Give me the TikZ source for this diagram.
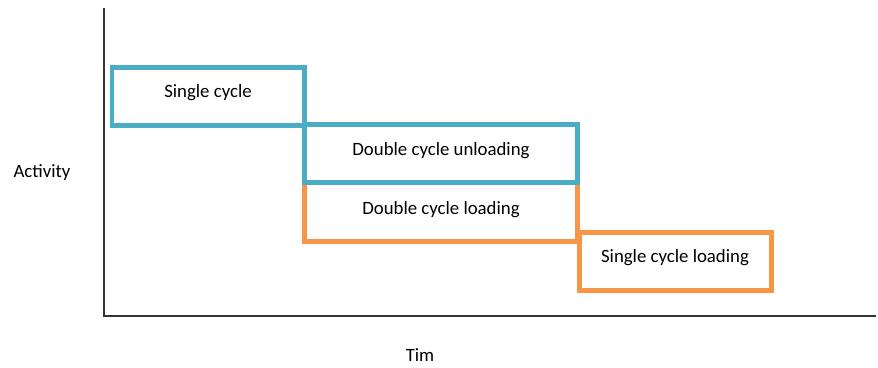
\documentclass[tikz,border=0pt]{standalone}
\usepackage{fontspec}
\setmainfont{Carlito}
\definecolor{boxblue}{HTML}{4BACC6}
\definecolor{boxorange}{HTML}{F79646}
\tikzset{
  axisline/.style={draw=black!80, line width=2pt},
  bluebox/.style={draw=boxblue, line width=4.5pt},
  orangebox/.style={draw=boxorange, line width=4.5pt},
  lbl/.style={font=\fontsize{18.8}{22}\selectfont, text=black, inner sep=0pt},
}
\begin{document}
\begin{tikzpicture}[x=1pt,y=-1pt]
\useasboundingbox (0,0) rectangle (878,367);
% axes
\coordinate (ytop) at (104,8);
\coordinate (orig) at (104,316);
\coordinate (xend) at (876,316);
\draw[axisline] (ytop) -- (orig) -- (xend);
% boxes
\draw[orangebox] (304.5,182.5) rectangle (577.5,241.5);
\draw[orangebox] (579.5,232.5) rectangle (771.5,290.5);
\draw[bluebox] (112,67.5) rectangle (304.5,125.5);
\draw[bluebox] (304.5,124.5) rectangle (577.5,182.5);
% labels
\node[lbl] (t1) at (208,93) {Single cycle};
\node[lbl] (t2) at (441,151) {Double cycle unloading};
\node[lbl] (t3) at (441,210) {Double cycle loading};
\node[lbl] (t4) at (675,258) {Single cycle loading};
\node[lbl] (ya) at (42,173) {Activity};
\node[lbl] (xa) at (420,355) {Tim};
\end{tikzpicture}
\end{document}
